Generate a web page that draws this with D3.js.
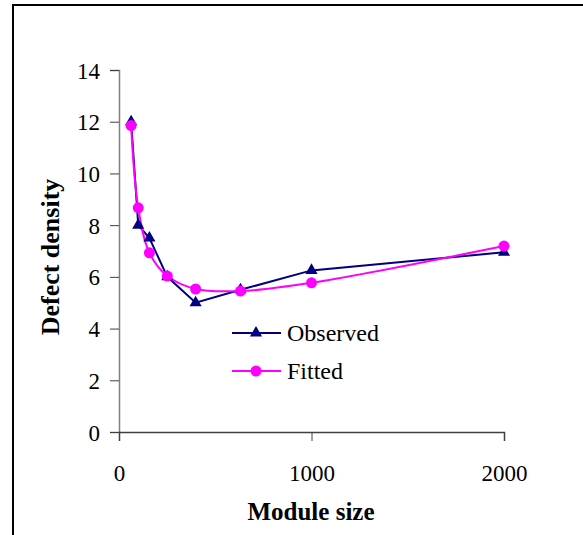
<!DOCTYPE html>
<html>
<head>
<meta charset="utf-8">
<script src="https://cdn.jsdelivr.net/npm/d3@7"></script>
<style>
  body { margin: 0; background: #fff; }
</style>
</head>
<body>
<div id="chart"></div>
<script>
// module sizes (x) and the two series
const moduleSize = [63, 100, 158, 251, 398, 631, 1000, 2000];
const observed = [12, 8, 7.5, 6, 5, 5.5, 6.25, 6.95];
const fitted = [11.85, 8.67, 6.93, 6.03, 5.53, 5.45, 5.77, 7.19];
const xTicks = [0, 1000, 2000];
const yTicks = [0, 2, 4, 6, 8, 10, 12, 14];
const seriesNames = ['Observed', 'Fitted'];

const width = 583, height = 535;
const serif = '"Liberation Serif", "Times New Roman", Times, serif';

const svg = d3.select('#chart').append('svg')
    .attr('width', width)
    .attr('height', height)
    .style('font-family', serif);

// outer frame (runs off the right and bottom edge)
svg.append('rect')
    .attr('x', 13).attr('y', 5)
    .attr('width', 700).attr('height', 700)
    .attr('fill', 'none')
    .attr('stroke', '#000')
    .attr('stroke-width', 2);

const x = d3.scaleLinear().domain([0, 2000]).range([119, 504]);
const y = d3.scaleLinear().domain([0, 14]).range([432, 70]);

// y axis
const yAxis = svg.append('g')
    .attr('transform', `translate(${x(0)},0)`)
    .call(d3.axisLeft(y).tickValues(yTicks).tickSize(9).tickPadding(10));
yAxis.select('.domain').attr('stroke', '#808080').attr('stroke-width', 1.5);
yAxis.selectAll('.tick line').attr('stroke', '#404040');
yAxis.selectAll('.tick text')
    .style('font-family', serif)
    .style('font-size', '23px')
    .attr('fill', '#000')
    .attr('dy', '0.35em');

// x axis
const xAxis = svg.append('g')
    .attr('transform', `translate(0,${y(0)})`)
    .call(d3.axisBottom(x).tickValues(xTicks).tickFormat(d3.format('d')).tickSize(9).tickPadding(24));
xAxis.select('.domain').attr('stroke', '#404040').attr('stroke-width', 1.5);
xAxis.selectAll('.tick line').attr('stroke', '#404040');
xAxis.selectAll('.tick text')
    .style('font-family', serif)
    .style('font-size', '23px')
    .attr('fill', '#000');

// axis titles
svg.append('text')
    .attr('x', 311).attr('y', 520)
    .attr('text-anchor', 'middle')
    .style('font-size', '25px')
    .style('font-weight', 'bold')
    .text('Module size');

svg.append('text')
    .attr('transform', 'translate(59,257) rotate(-90)')
    .attr('text-anchor', 'middle')
    .style('font-size', '26px')
    .style('font-weight', 'bold')
    .text('Defect density');

const obsData = moduleSize.map((m, i) => ({ x: m, y: observed[i] }));
const fitData = moduleSize.map((m, i) => ({ x: m, y: fitted[i] }));

const obsColor = '#000080';
const fitColor = '#ff00ff';

const straight = d3.line().x(d => x(d.x)).y(d => y(d.y));
const smooth = d3.line().x(d => x(d.x)).y(d => y(d.y)).curve(d3.curveCatmullRom.alpha(0.5));

svg.append('path')
    .datum(obsData)
    .attr('d', straight)
    .attr('fill', 'none')
    .attr('stroke', obsColor)
    .attr('stroke-width', 2);

svg.append('path')
    .datum(fitData)
    .attr('d', smooth)
    .attr('fill', 'none')
    .attr('stroke', fitColor)
    .attr('stroke-width', 2);

const tri = d3.symbol().type(d3.symbolTriangle).size(64);

svg.selectAll('.obs-pt')
    .data(obsData)
    .enter()
    .append('path')
    .attr('class', 'obs-pt')
    .attr('d', tri)
    .attr('transform', d => `translate(${x(d.x)},${y(d.y)})`)
    .attr('fill', obsColor);

svg.selectAll('.fit-pt')
    .data(fitData)
    .enter()
    .append('circle')
    .attr('class', 'fit-pt')
    .attr('cx', d => x(d.x))
    .attr('cy', d => y(d.y))
    .attr('r', 5.5)
    .attr('fill', fitColor);

// legend
const legend = svg.append('g').attr('transform', 'translate(232,333)');
seriesNames.forEach((name, i) => {
    const row = legend.append('g').attr('transform', `translate(0,${i * 38})`);
    const col = i === 0 ? obsColor : fitColor;
    row.append('line')
        .attr('x1', 0).attr('x2', 49)
        .attr('y1', 0).attr('y2', 0)
        .attr('stroke', col)
        .attr('stroke-width', 2);
    if (i === 0) {
        row.append('path')
            .attr('d', tri)
            .attr('transform', 'translate(24,0)')
            .attr('fill', col);
    } else {
        row.append('circle')
            .attr('cx', 24).attr('cy', 0)
            .attr('r', 5.5)
            .attr('fill', col);
    }
    row.append('text')
        .attr('x', 55)
        .attr('y', 0)
        .attr('dy', '0.35em')
        .style('font-size', '24px')
        .text(name);
});
</script>
</body>
</html>
